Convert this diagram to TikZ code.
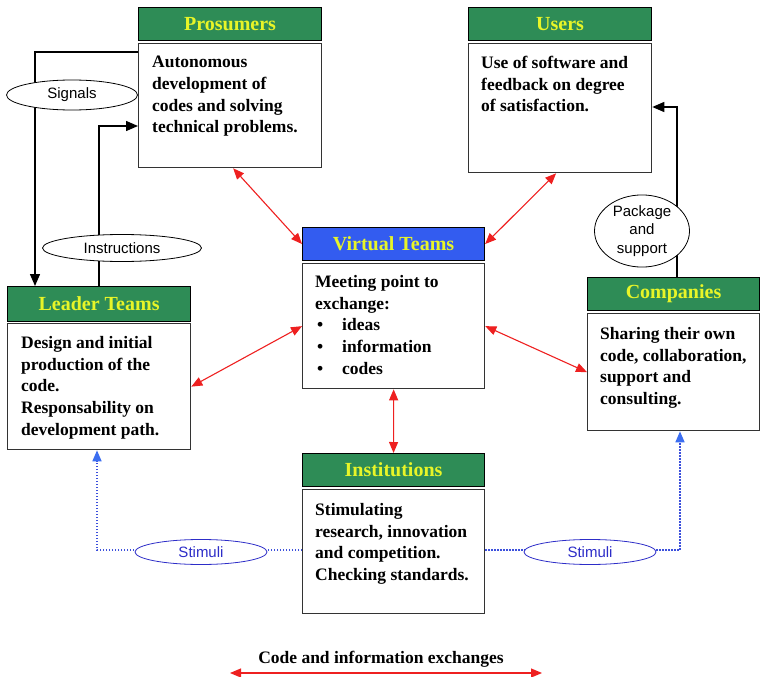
\documentclass[tikz,border=0pt]{standalone}
\usepackage{fontspec}
\setmainfont{Liberation Serif}
\newfontfamily\arialf{Liberation Sans}
\usetikzlibrary{arrows.meta,shapes.geometric}

\definecolor{hdrgreen}{RGB}{46,140,86}
\definecolor{hdrblue}{RGB}{51,92,240}
\definecolor{hdryellow}{RGB}{232,245,40}
\definecolor{redline}{RGB}{238,32,32}
\definecolor{dotblue}{RGB}{60,80,220}
\definecolor{tipblue}{RGB}{60,110,240}
\definecolor{stimblue}{RGB}{45,45,200}

\tikzset{
  hdr/.style={draw=black, line width=1.1pt, fill=hdrgreen, anchor=north west,
    minimum height=33pt, inner sep=0pt, text=hdryellow,
    font=\fontsize{20}{24}\selectfont\bfseries},
  hdrv/.style={hdr, fill=hdrblue},
  bodybox/.style={draw=black!80, line width=1.3pt, fill=white, anchor=north west,
    inner sep=0pt},
  bodytext/.style={anchor=north west, inner sep=0pt, align=left,
    font=\fontsize{17.5}{21.7}\selectfont\bfseries},
  oval/.style={ellipse, draw=black, line width=0.8pt, fill=white, inner sep=0pt,
    align=center, font=\arialf\fontsize{15}{18.5}\selectfont},
  stimoval/.style={oval, draw=stimblue, text=stimblue},
  redx/.style={draw=redline, line width=1.1pt,
    >={Triangle[length=11pt,width=9pt,color=redline]}, <->},
  blkarr/.style={draw=black, line width=1.4pt,
    -{Triangle[length=12pt,width=10pt]}},
  bluedot/.style={draw=dotblue, line width=1.5pt, dash pattern=on 1.3pt off 1.7pt,
    -{Triangle[length=11pt,width=9pt,color=tipblue]}},
}

\begin{document}
\begin{tikzpicture}[x=1pt, y=-1pt]
\useasboundingbox (0,0) rectangle (761,677);

% actor boxes: header strip and description box
\node[hdr, minimum width=183pt] (prosH) at (138,7) {Prosumers};
\node[bodybox, minimum width=183pt, minimum height=124pt] (prosB) at (138,43) {};
\node[bodytext] (prosT) at ([xshift=14pt,yshift=-13pt]prosB.north west)
  {Autonomous\\development of\\codes and solving\\technical problems.};

\node[hdr, minimum width=183pt] (usersH) at (468,7) {Users};
\node[bodybox, minimum width=183pt, minimum height=129pt] (usersB) at (468,43) {};
\node[bodytext] (usersT) at ([xshift=13pt,yshift=-13pt]usersB.north west)
  {Use of software and\\feedback on degree\\of satisfaction.};

\node[hdrv, minimum width=182pt] (virtH) at (302,227) {Virtual Teams};
\node[bodybox, minimum width=182pt, minimum height=125pt] (virtB) at (302,263) {};
\node[bodytext] (virtT) at ([xshift=13pt,yshift=-12pt]virtB.north west)
  {Meeting point to\\exchange:\\
   \hspace*{2pt}\makebox[25pt][l]{\textbullet}ideas\\
   \hspace*{2pt}\makebox[25pt][l]{\textbullet}information\\
   \hspace*{2pt}\makebox[25pt][l]{\textbullet}codes};

\node[hdr, minimum width=183pt, minimum height=35pt] (leadH) at (7,286) {Leader Teams};
\node[bodybox, minimum width=183pt, minimum height=126pt] (leadB) at (7,323) {};
\node[bodytext] (leadT) at ([xshift=14pt,yshift=-13pt]leadB.north west)
  {Design and initial\\production of the\\code.\\Responsability on\\development path.};

\node[hdr, minimum width=172pt] (compH) at (587,277) {Companies};
\node[bodybox, minimum width=172pt, minimum height=117pt] (compB) at (587,313) {};
\node[bodytext] (compT) at ([xshift=13pt,yshift=-14pt]compB.north west)
  {Sharing their own\\code, collaboration,\\support and\\consulting.};

\node[hdr, minimum width=182pt] (instH) at (302,453) {Institutions};
\node[bodybox, minimum width=182pt, minimum height=124pt] (instB) at (302,489) {};
\node[bodytext] (instT) at ([xshift=13pt,yshift=-14pt]instB.north west)
  {Stimulating\\research, innovation\\and competition.\\Checking standards.};

% code and information exchanges
\draw[redx] ([xshift=3pt]prosB.south) -- (virtH.west);
\draw[redx] ([xshift=-4pt]usersB.south) -- (virtH.east);
\draw[redx] (leadB.east) -- (virtB.west);
\draw[redx] (compB.west) -- (virtB.east);
\draw[redx] (virtB.south) -- (instH.north);

% signals, instructions, package and support
\draw[blkarr] ([yshift=-9pt]prosB.north west) -| ([xshift=28pt]leadH.north west);
\draw[blkarr] ([xshift=92pt]leadH.north west) |- ([yshift=-83pt]prosB.north west);
\draw[blkarr] ([xshift=90pt]compH.north west) |- ([yshift=-64pt]usersB.north east);

\node[oval, minimum width=131pt, minimum height=30pt] (sig) at (72,95) {Signals};
\node[oval, minimum width=159pt, minimum height=27pt] (instr) at (122,248) {Instructions};
\node[oval, minimum width=95pt, minimum height=65pt] (pack) at (642,231) {Package\\and\\support};

% stimuli from institutions
\draw[bluedot] ([yshift=-61pt]instB.north west) -| ([xshift=90pt]leadB.south west);
\draw[bluedot] ([yshift=-61pt]instB.north east) -| ([xshift=93pt]compB.south west);
\node[stimoval, minimum width=132pt, minimum height=25pt] (stimL) at (201,552) {Stimuli};
\node[stimoval, minimum width=132pt, minimum height=25pt] (stimR) at (590,552) {Stimuli};

% legend
\coordinate (legL) at (230,673);
\coordinate (legR) at (542,673);
\draw[redx] (legL) -- (legR);
\node[anchor=base, inner sep=0pt, font=\fontsize{17.5}{21}\selectfont\bfseries]
  (legT) at (381,663) {Code and information exchanges};
\end{tikzpicture}
\end{document}
